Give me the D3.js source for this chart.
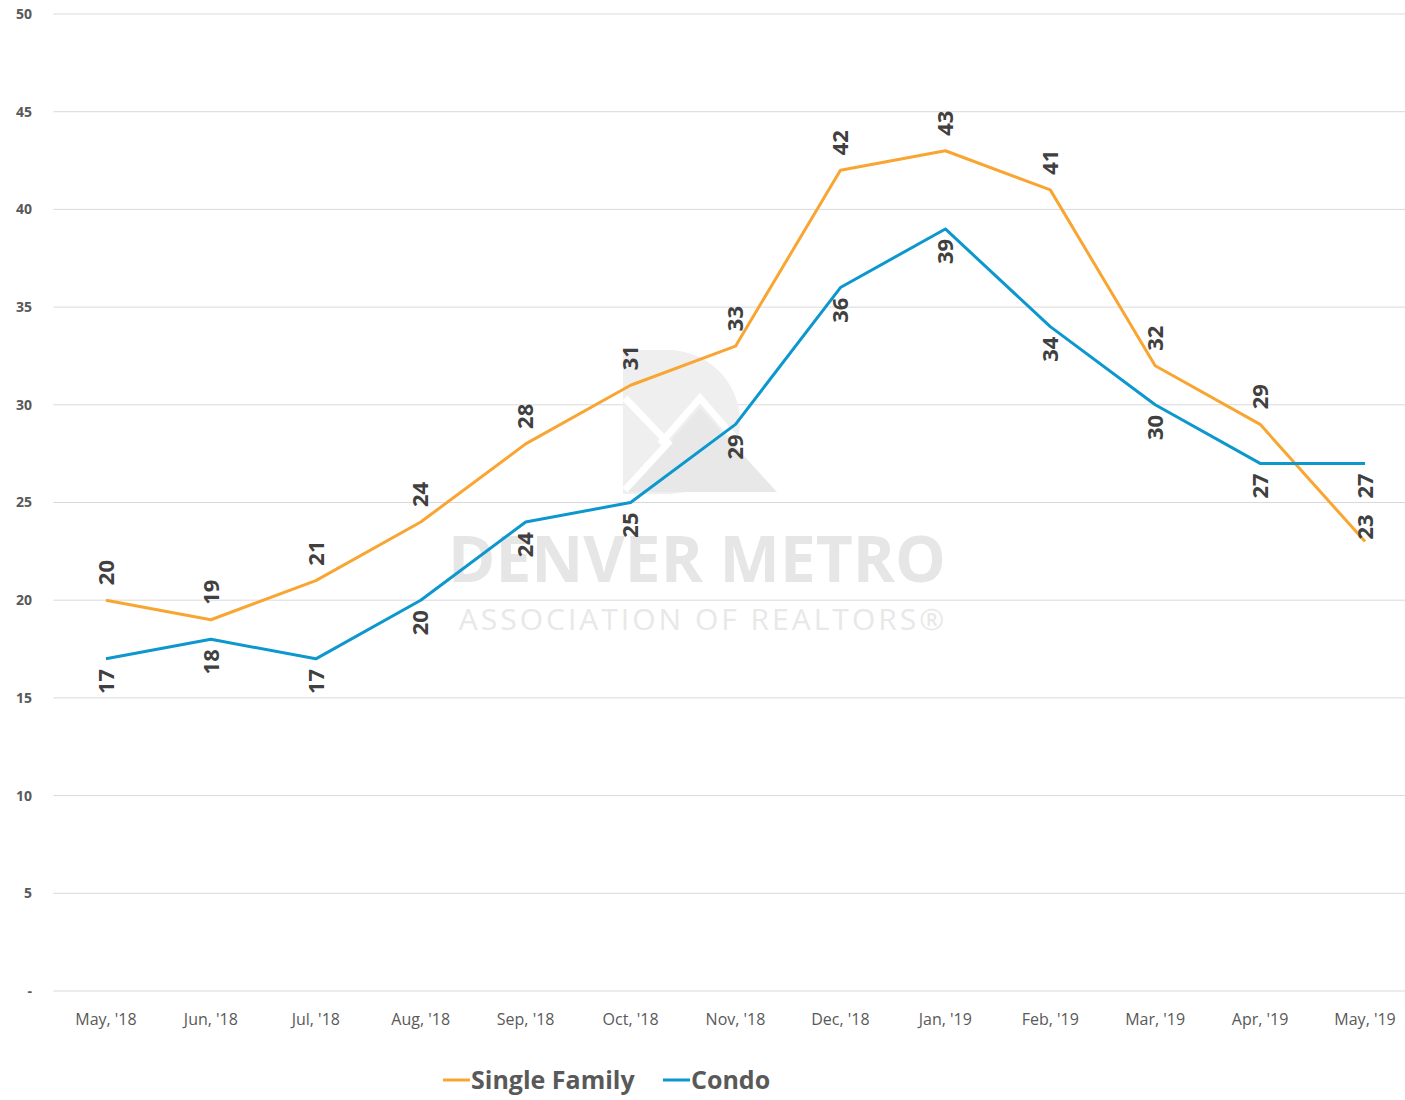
<!DOCTYPE html>
<html>
<head>
<meta charset="utf-8">
<script src="https://cdn.jsdelivr.net/npm/d3@7"></script>
<style>
  body { margin: 0; background: #fff; }
  svg { font-family: "Open Sans", "Liberation Sans", sans-serif; }
</style>
</head>
<body>
<div id="chart"></div>
<script>
const months = ["May, '18", "Jun, '18", "Jul, '18", "Aug, '18", "Sep, '18", "Oct, '18", "Nov, '18",
                "Dec, '18", "Jan, '19", "Feb, '19", "Mar, '19", "Apr, '19", "May, '19"];
const singleFamily = [20, 19, 21, 24, 28, 31, 33, 42, 43, 41, 32, 29, 23];
const condo = [17, 18, 17, 20, 24, 25, 29, 36, 39, 34, 30, 27, 27];
const yTicks = [0, 5, 10, 15, 20, 25, 30, 35, 40, 45, 50];

const width = 1405, height = 1100;
const margin = {top: 14, left: 53.5, right: -12.5, bottom: 109};

const svg = d3.select('#chart')
    .append('svg')
    .attr('width', width)
    .attr('height', height);

const x = d3.scaleBand()
    .domain(months)
    .range([margin.left, width - margin.right])
    .padding(0);

const y = d3.scaleLinear()
    .domain([0, 50])
    .range([height - margin.bottom, margin.top]);

const cx = d => x(d) + x.bandwidth() / 2;

// gridlines
svg.append('g')
    .selectAll('line')
    .data(yTicks)
    .join('line')
    .attr('x1', margin.left)
    .attr('x2', width)
    .attr('y1', d => y(d))
    .attr('y2', d => y(d))
    .attr('stroke', '#d9d9d9')
    .attr('stroke-width', 1);

// y labels
svg.append('g')
    .selectAll('text')
    .data(yTicks)
    .join('text')
    .attr('x', 32)
    .attr('y', d => y(d))
    .attr('dy', '0.35em')
    .attr('text-anchor', 'end')
    .attr('font-size', 14)
    .attr('font-weight', 'bold')
    .attr('fill', '#595959')
    .text(d => d === 0 ? '-' : d);

// x labels
svg.append('g')
    .selectAll('text')
    .data(months)
    .join('text')
    .attr('x', d => cx(d))
    .attr('y', 1025)
    .attr('text-anchor', 'middle')
    .attr('font-size', 16)
    .attr('fill', '#595959')
    .text(d => d);

// watermark
const wm = svg.append('g').attr('class', 'watermark');
wm.append('path')
    .attr('d', 'M623,350 L668,350 A72,72 0 0 1 668,494 L623,494 Z')
    .attr('fill', '#efefef');
wm.append('path')
    .attr('d', 'M625,492 L700,408 L777,492 Z')
    .attr('fill', '#e8e8e8');
wm.append('path')
    .attr('d', 'M625,398 L668,443 L625,490 M660,444 L700,398 L745,450')
    .attr('fill', 'none')
    .attr('stroke', '#fff')
    .attr('stroke-width', 7);
wm.append('text')
    .attr('x', 697)
    .attr('y', 582)
    .attr('text-anchor', 'middle')
    .attr('font-size', 64)
    .attr('font-weight', 'bold')
    .attr('fill', '#e6e6e6')
    .text('DENVER METRO');
wm.append('text')
    .attr('x', 703)
    .attr('y', 630)
    .attr('text-anchor', 'middle')
    .attr('font-size', 30)
    .attr('letter-spacing', 3)
    .attr('fill', '#e8e8e8')
    .text('ASSOCIATION OF REALTORS®');

const series = [
    {name: 'Single Family', values: singleFamily, color: '#f9a532', above: true},
    {name: 'Condo', values: condo, color: '#0c97cf', above: false}
];

const line = d3.line()
    .x((d, i) => cx(months[i]))
    .y(d => y(d));

series.forEach(s => {
    svg.append('path')
        .datum(s.values)
        .attr('d', line)
        .attr('fill', 'none')
        .attr('stroke', s.color)
        .attr('stroke-width', 3)
        .attr('stroke-linejoin', 'round');
});

// data labels (rotated); single family sits above, condo below
const labelLen = 27;
series.forEach(s => {
    svg.append('g')
        .selectAll('text')
        .data(s.values)
        .join('text')
        .attr('transform', (d, i) => {
            const px = cx(months[i]);
            let py = s.above ? y(d) - 15 : y(d) + 10;
            if (s.above) {
                // push down toward the point if it would run into the condo label
                const condoTop = y(condo[i]) + 10;
                const condoBottom = condoTop + labelLen;
                if (py > condoTop && py - labelLen < condoBottom + 6) py = y(d) - 2;
            }
            return 'translate(' + px + ',' + py + ') rotate(-90)';
        })
        .attr('text-anchor', s.above ? 'start' : 'end')
        .attr('dy', '0.35em')
        .attr('font-size', 22)
        .attr('font-weight', 'bold')
        .attr('fill', '#404040')
        .text(d => d);
});

// legend
const legend = svg.append('g');
const legendItems = [
    {name: 'Single Family', color: '#f9a532', x: 443},
    {name: 'Condo', color: '#0c97cf', x: 663}
];
legendItems.forEach(l => {
    legend.append('line')
        .attr('x1', l.x).attr('x2', l.x + 27)
        .attr('y1', 1080).attr('y2', 1080)
        .attr('stroke', l.color)
        .attr('stroke-width', 3);
    legend.append('text')
        .attr('x', l.x + 28)
        .attr('y', 1080)
        .attr('dy', '0.35em')
        .attr('font-size', 25)
        .attr('font-weight', 'bold')
        .attr('fill', '#595959')
        .text(l.name);
});
</script>
</body>
</html>
